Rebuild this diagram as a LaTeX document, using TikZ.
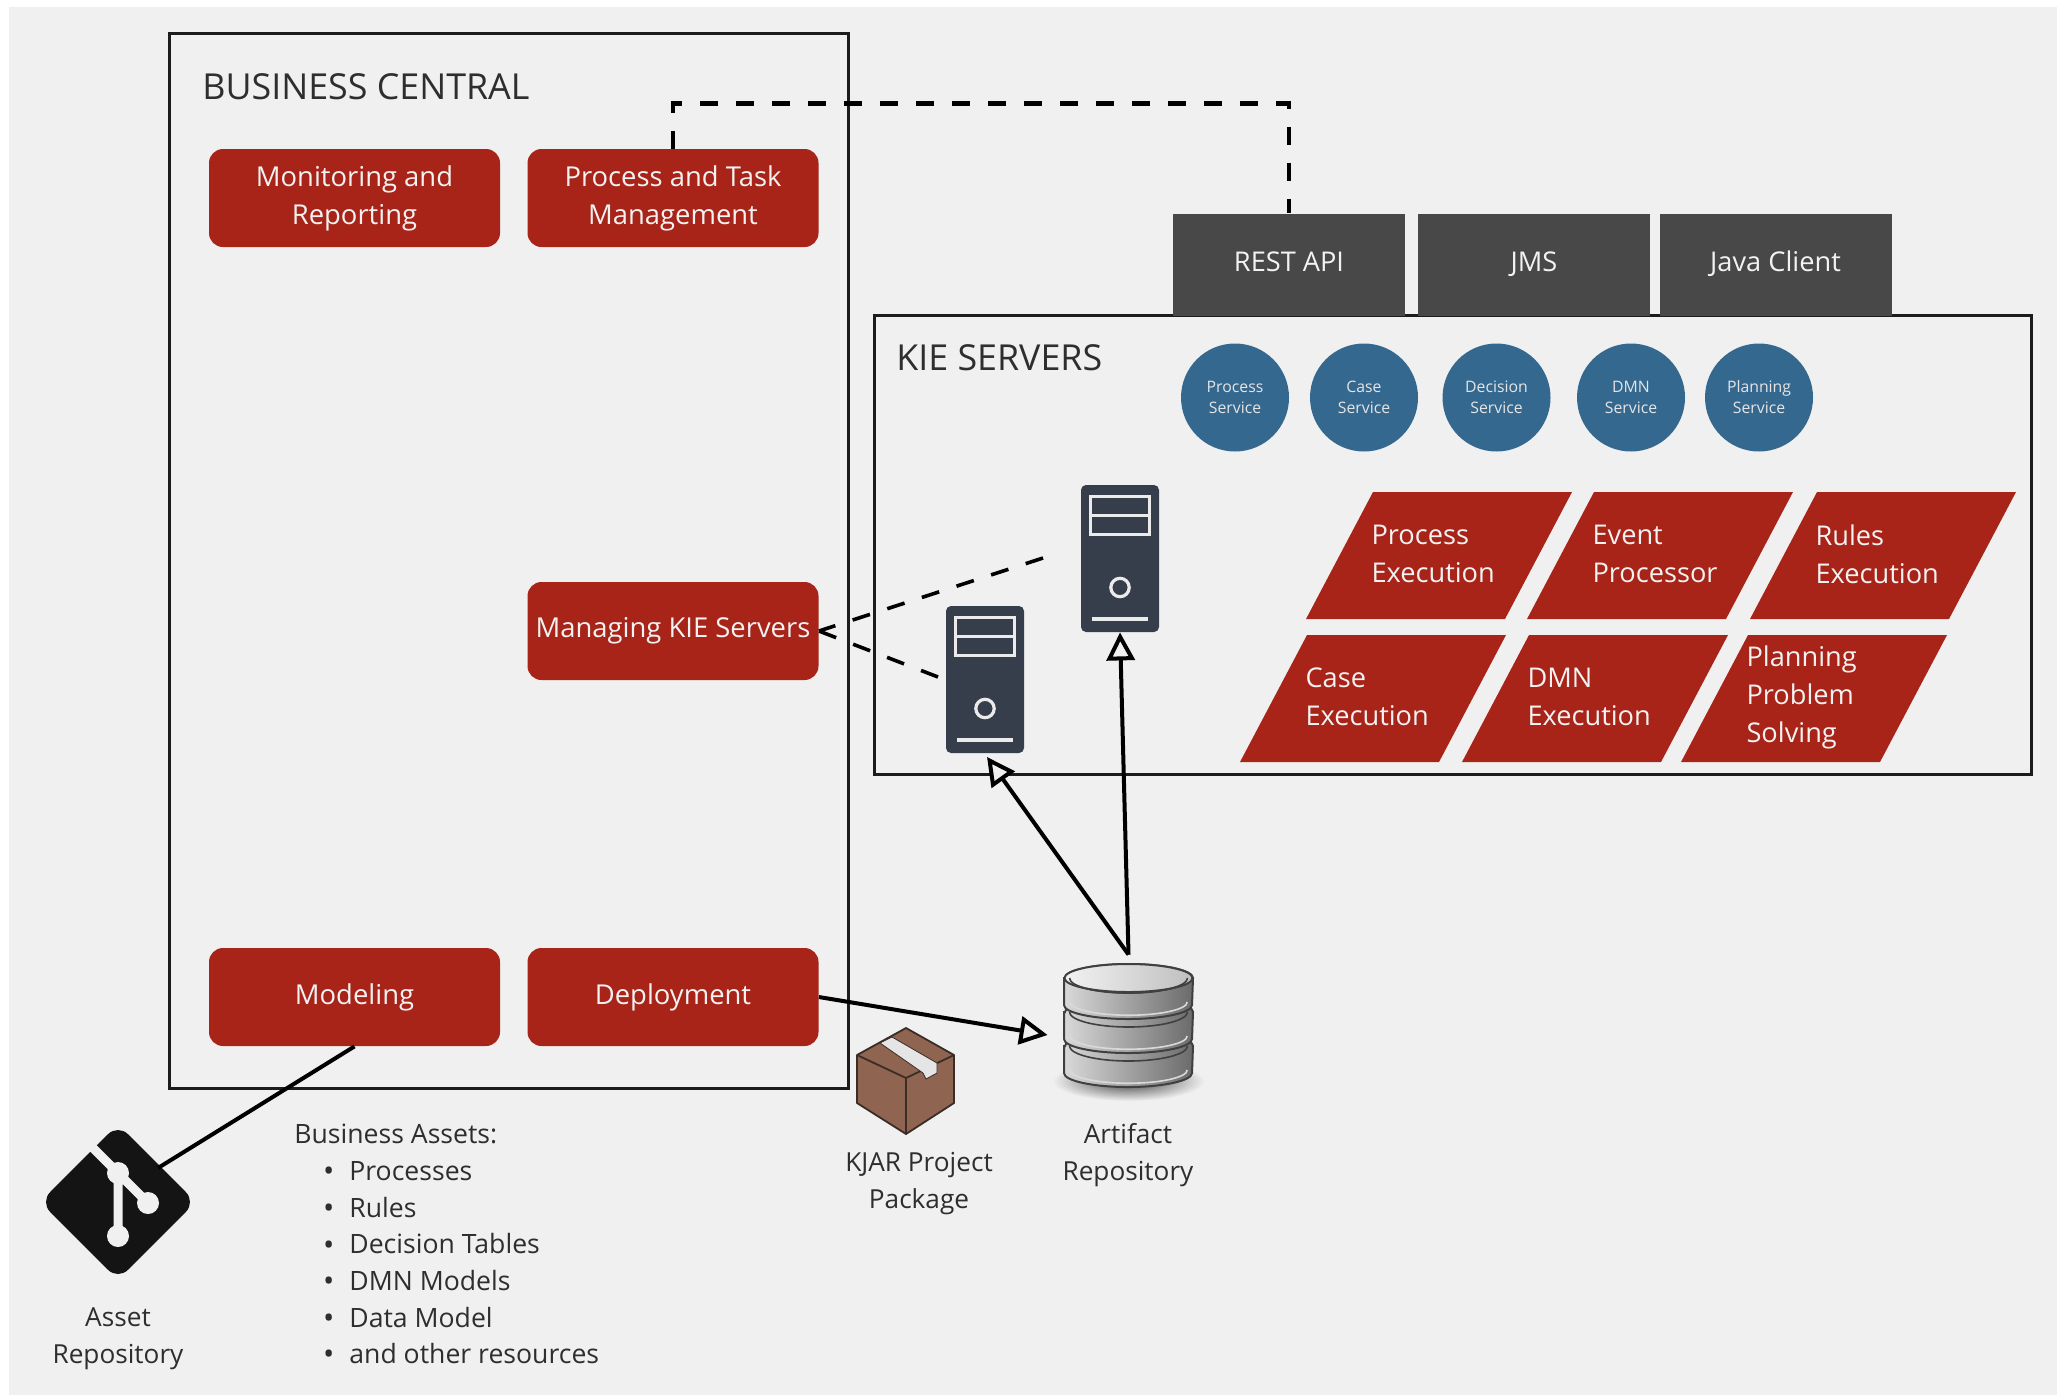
\documentclass[tikz,border=0pt]{standalone}
\usepackage{fontspec}
\setmainfont{Open Sans}
\usetikzlibrary{arrows.meta,calc}
\definecolor{sheetgray}{HTML}{F0F0F0}
\definecolor{kiered}{HTML}{A82318}
\definecolor{apigray}{HTML}{484848}
\definecolor{serviceblue}{HTML}{35688F}
\definecolor{serverslate}{HTML}{363E4C}
\definecolor{framedark}{HTML}{1C1C1C}
\definecolor{textdark}{HTML}{2E2E2E}
\definecolor{boxbrown}{HTML}{8F6451}
\definecolor{boxline}{HTML}{3A2C26}
\tikzset{
  frame/.style={draw=framedark,line width=1.5pt,fill=none},
  titletext/.style={anchor=west,text=textdark,inner sep=0pt,font=\fontsize{17.9}{23}\selectfont},
  redbox/.style={fill=kiered,rounded corners=7pt,minimum width=145.5pt,minimum height=49pt,inner sep=0pt,align=center,text=white!95!black,font=\fontsize{13.7}{19}\selectfont},
  apibox/.style={fill=apigray,minimum width=116pt,minimum height=51pt,inner sep=0pt,text height=10pt,text depth=3pt,text=white!95!black,font=\fontsize{13.6}{19}\selectfont},
  servicedot/.style={circle,fill=serviceblue,minimum size=54pt,inner sep=0pt,align=center,text=white!90!black,font=\fontsize{7.9}{10.5}\selectfont},
  enginelabel/.style={inner sep=0pt,text width=67.5pt,align=left,text=white!95!black,font=\fontsize{13.6}{19}\selectfont},
  serverbox/.style={fill=serverslate,rounded corners=2.5pt,minimum width=39pt,minimum height=73.5pt,inner sep=0pt},
  plainlabel/.style={align=center,inner sep=0pt,text=textdark,font=\fontsize{13.1}{18.4}\selectfont},
  assetitem/.style={anchor=west,inner sep=0pt,text=textdark,text height=10.5pt,text depth=3pt,font=\fontsize{13.3}{18.4}\selectfont},
  solidlink/.style={draw=black,line width=2pt},
  openhead/.style={-{Triangle[open,length=14pt,width=14pt,fill=sheetgray]}},
  dashlink/.style={draw=black,line width=1.8pt,dash pattern=on 9.1pt off 9.1pt},
  serverdetail/.pic={
    \draw [white!92!black,line width=1.6pt] (-29.5,-62) rectangle (29.5,-24);
    \draw [white!92!black,line width=1.6pt] (-29.5,-43) -- (29.5,-43);
    \draw [white!92!black,line width=1.6pt] (0,29) circle [radius=4.6pt];
    \draw [white!92!black,line width=2pt] (-28,60) -- (28,60);
  }
}
\begin{document}
\begin{tikzpicture}[x=0.5pt,y=-0.5pt]
\useasboundingbox (0,0) rectangle (2070,1398);
\fill [sheetgray] (9,7) rectangle (2057,1395);
\draw [frame] (169,33) rectangle (848,1088);
\draw [frame] (874,315.5) rectangle (2031,774);
\node [titletext] (centraltitle) at (202,87) {BUSINESS CENTRAL};
\node [titletext] (kietitle) at (896,358) {KIE SERVERS};
\node [redbox] (monitoring) at (354.5,198) {Monitoring and\\Reporting};
\node [redbox] (taskmgmt) at (673,198) {Process and Task\\Management};
\node [redbox] (managing) at (673,631) {Managing KIE Servers};
\node [redbox] (modeling) at (354.5,997) {Modeling};
\node [redbox] (deployment) at (673,997) {Deployment};
\node [apibox] (restapi) at (1289,264.5) {REST API};
\node [apibox] (jms) at (1534,264.5) {JMS};
\node [apibox] (javaclient) at (1775.5,264.5) {Java Client};
\node [servicedot] (processsvc) at (1235,397.5) {Process\\Service};
\node [servicedot] (casesvc) at (1364,397.5) {Case\\Service};
\node [servicedot] (decisionsvc) at (1496.5,397.5) {Decision\\Service};
\node [servicedot] (dmnsvc) at (1631,397.5) {DMN\\Service};
\node [servicedot] (planningsvc) at (1759,397.5) {Planning\\Service};
\foreach \ex/\ey/\ename/\etext in {1373/492/processexec/{Process\\Execution},1594/492/eventproc/{Event\\Processor},1817/492/rulesexec/{Rules\\Execution},1307/635/caseexec/{Case\\Execution},1529/635/dmnexec/{DMN\\Execution},1748/635/planningexec/{Planning\\Problem\\Solving}} {
  \fill [kiered] (\ex,\ey) -- ++(199,0) -- ++(-67,127) -- ++(-199,0) -- cycle;
  \node [enginelabel] (\ename) at (\ex+66,\ey+62) {\etext};
}
\node [serverbox] (serverupper) at (1120,558.5) {};
\pic at (serverupper.center) {serverdetail};
\node [serverbox] (serverlower) at (985,679.5) {};
\pic at (serverlower.center) {serverdetail};
\coordinate (upperdash) at (1043,558);
\coordinate (lowerdash) at (938,677);
\draw [dashlink] (upperdash) -- (managing.east);
\draw [dashlink] (lowerdash) -- (managing.east);
\draw [dashlink,line width=2.4pt,dash pattern=on 9pt off 9pt] (taskmgmt.north) -- ++(0,-45) -| (restapi.north);
\shade [inner color=black!75,outer color=sheetgray] (1128.5,1081) ellipse [x radius=38pt,y radius=10pt];
\foreach \dbtop in {1046,1012,978} {
  \shadedraw [draw=black!75,line width=1pt,left color=black!15,right color=black!58] (1064,\dbtop) -- (1064,\dbtop+27) arc [start angle=180,end angle=360,x radius=32pt,y radius=7pt] -- (1193,\dbtop) arc [start angle=0,end angle=180,x radius=32pt,y radius=7pt] -- cycle;
  \draw [white!85!black,line width=0.8pt] (1070,\dbtop+24) arc [start angle=180,end angle=360,x radius=29.3pt,y radius=6.6pt];
  \draw [black!75,line width=0.8pt] (1069.5,\dbtop) arc [start angle=180,end angle=360,x radius=29.5pt,y radius=7.5pt];
}
\shadedraw [draw=black!75,line width=1pt,left color=black!5,right color=black!25] (1128.5,978) ellipse [x radius=32pt,y radius=7pt];
\draw [black!75,line width=0.8pt] (1069.5,978) arc [start angle=180,end angle=360,x radius=29.5pt,y radius=7.5pt];
\node [minimum width=80.5pt,minimum height=80pt,inner sep=0pt] (artifactdb) at (1128.5,1035) {};
\draw [solidlink,openhead] (artifactdb.north) -- (serverupper.south);
\draw [solidlink,openhead] (artifactdb.north) -- (987,757);
\draw [solidlink,openhead] (deployment.east) -- (artifactdb.west);
\draw [draw=boxline,fill=boxbrown,line width=0.9pt,line join=round] (906,1028) -- (954,1055) -- (954,1103) -- (906,1134) -- (857,1103) -- (857,1055) -- cycle;
\draw [draw=boxline,line width=0.9pt,line join=round] (857,1055) -- (906,1078) -- (954,1055) (906,1078) -- (906,1134);
\draw [draw=boxline,fill=white!90!black,line width=0.4pt,line join=round] (880,1043) -- (892,1037) -- (937,1063) -- (937,1073) -- (926,1079) -- (923,1073) -- cycle;
\node [plainlabel] (kjarlabel) at (919,1183.5) {KJAR Project\\Package};
\node [plainlabel] (artifactlabel) at (1128,1155) {Artifact\\Repository};
\node [draw=none,fill=black!92,rotate=45,rounded corners=7pt,minimum size=55pt,inner sep=0pt] (gitmark) at (118,1202) {};
\draw [sheetgray,line width=4.5pt] (90,1145) -- (118,1173) -- (118,1236) (118,1173) -- (148,1203);
\fill [sheetgray] (118,1173) circle [radius=5.5pt] (118,1236) circle [radius=5.5pt] (148,1203) circle [radius=5.5pt];
\coordinate (gittouch) at (158,1168);
\draw [solidlink] (modeling.south) -- (gittouch);
\node [plainlabel] (gitlabel) at (118,1338.5) {Asset\\Repository};
\node [assetitem] (assetstitle) at (294,1136) {Business Assets:};
\foreach \asset [count=\n] in {Processes,Rules,Decision Tables,DMN Models,Data Model,and other resources} {
  \node [assetitem] (asset\n) at (349,1136.5+36.6*\n) {\llap{\raisebox{-0.6pt}{\fontsize{15}{15}\selectfont\textbullet}\hspace{7.5pt}}\asset};
}
\end{tikzpicture}
\end{document}
